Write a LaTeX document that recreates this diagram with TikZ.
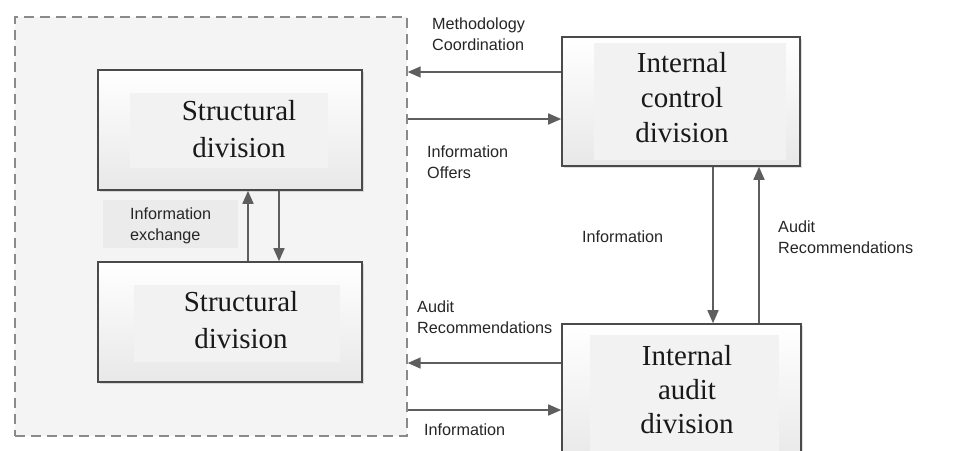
\documentclass[tikz,border=0pt]{standalone}
\usepackage{fontspec}
\setmainfont{Liberation Serif}
\setsansfont{Liberation Sans}
\usetikzlibrary{arrows.meta,shadows}
\definecolor{linec}{HTML}{5E5E5E}
\definecolor{boxline}{HTML}{4A4A4A}
\definecolor{contfill}{HTML}{F4F4F4}
\definecolor{contline}{HTML}{8A8A8A}
\definecolor{innerf}{HTML}{F2F2F2}
\tikzset{
  x=1pt, y=-1pt,
  divbox/.style={draw=boxline, line width=1.6pt, top color=white, bottom color=white!91!black,
    drop shadow={opacity=0.25, shadow xshift=1.5pt, shadow yshift=-1.5pt}, inner sep=0pt},
  boxtext/.style={font=\fontsize{29}{37}\selectfont, align=center, text=black!90},
  lbl/.style={font=\sffamily\fontsize{16.2}{21.5}\selectfont, align=left, anchor=west, inner sep=0pt, text=black!85},
  arr/.style={draw=linec, line width=1.6pt, -{Triangle[length=13pt,width=11pt]}, color=linec},
}
\begin{document}
\begin{tikzpicture}
\useasboundingbox (0,0) rectangle (976,450);
\fill[white] (0,0) rectangle (976,450);
% container
\node[draw=contline, fill=contfill, dash pattern=on 10pt off 6pt, line width=1.4pt,
  minimum width=392pt, minimum height=419pt, inner sep=0pt] (cont) at (211,226.5) {};
% structural boxes
\node[divbox, minimum width=264pt, minimum height=120pt] (s1) at (230,130) {};
\fill[innerf] (130,93) rectangle (328,168);
\node[boxtext] (s1t) at (239,129) {Structural\\division};
\node[divbox, minimum width=264pt, minimum height=120pt] (s2) at (230,322) {};
\fill[innerf] (134,285) rectangle (340,362);
\node[boxtext] (s2t) at (241,320) {Structural\\division};
% info exchange label
\fill[black!8] (103,200) rectangle (238,248);
\node[lbl] (ie) at (130,226) {Information\\exchange};
\draw[arr] (s2.north -| 248,0) -- (s1.south -| 248,0);
\draw[arr] (s1.south -| 279,0) -- (s2.north -| 279,0);
% internal control
\node[divbox, minimum width=238pt, minimum height=129pt] (ic) at (681,101.5) {};
\fill[innerf] (594,43) rectangle (786,160);
\node[boxtext, font=\fontsize{29}{35}\selectfont] (ict) at (682,98) {Internal\\control\\division};
% internal audit
\node[divbox, minimum width=239pt, minimum height=140pt] (ia) at (681.5,394) {};
\fill[innerf] (590,335) rectangle (779,452);
\node[boxtext, font=\fontsize{29}{34}\selectfont] (iat) at (687,390) {Internal\\audit\\division};
% horizontal arrows
\draw[arr] (ic.west |- 0,72) -- (cont.east |- 0,72);
\draw[arr] (cont.east |- 0,119) -- (ic.west |- 0,119);
\draw[arr] (ia.west |- 0,363) -- (cont.east |- 0,363);
\draw[arr] (cont.east |- 0,410) -- (ia.west |- 0,410);
% vertical arrows
\draw[arr] (ic.south -| 713,0) -- (ia.north -| 713,0);
\draw[arr] (ia.north -| 759,0) -- (ic.south -| 759,0);
% labels
\node[lbl] (l1) at (432,34) {Methodology\\Coordination};
\node[lbl] (l2) at (427,162) {Information\\Offers};
\node[lbl] (l3) at (582,237) {Information};
\node[lbl] (l4) at (778,237) {Audit\\Recommendations};
\node[lbl] (l5) at (417,317) {Audit\\Recommendations};
\node[lbl] (l6) at (424,430) {Information};
\end{tikzpicture}
\end{document}
